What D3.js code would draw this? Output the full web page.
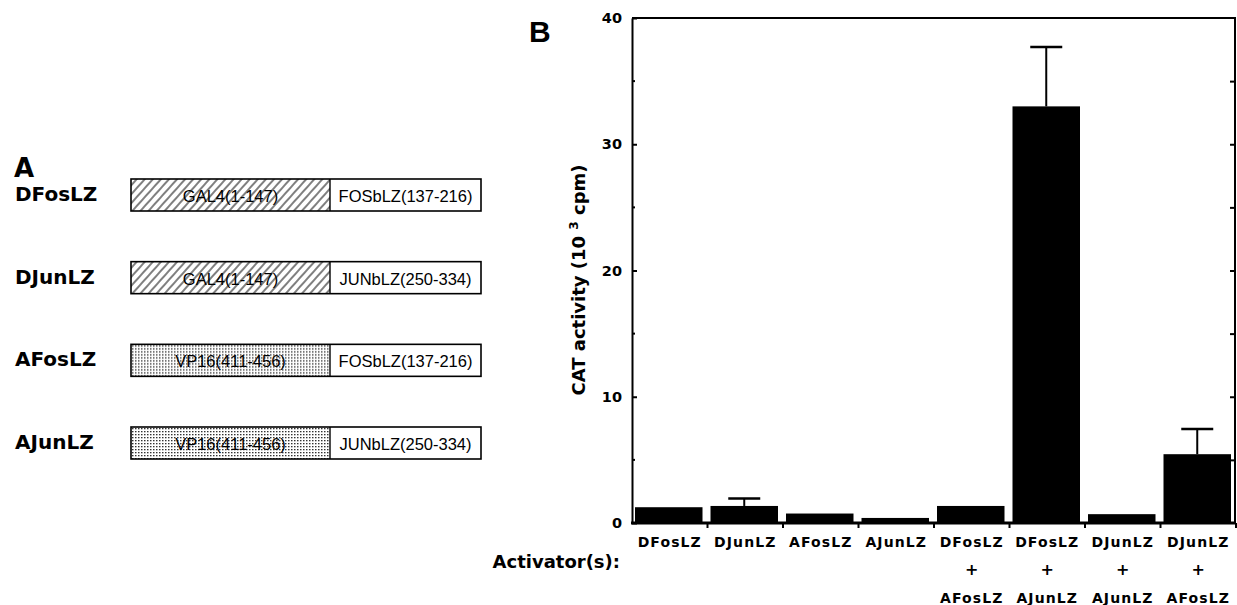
<!DOCTYPE html>
<html>
<head>
<meta charset="utf-8">
<script src="https://cdn.jsdelivr.net/npm/d3@7"></script>
<style>
  body { margin: 0; background: #fff; }
  .heavy { font-family: "DejaVu Sans", sans-serif; font-weight: bold; }
  .helv { font-family: "Liberation Sans", Arial, sans-serif; }
</style>
</head>
<body>
<script>
const w = 1237;
const h = 605;

// ---- panel A : constructs
const constructs = ["DFosLZ", "DJunLZ", "AFosLZ", "AJunLZ"];
const leftDomain = ["GAL4(1-147)", "GAL4(1-147)", "VP16(411-456)", "VP16(411-456)"];
const leftKind = ["hatch", "hatch", "dots", "dots"];
const rightDomain = ["FOSbLZ(137-216)", "JUNbLZ(250-334)", "FOSbLZ(137-216)", "JUNbLZ(250-334)"];

// ---- panel B : CAT activity
const activator1 = ["DFosLZ", "DJunLZ", "AFosLZ", "AJunLZ", "DFosLZ", "DFosLZ", "DJunLZ", "DJunLZ"];
const activator2 = ["", "", "", "", "AFosLZ", "AJunLZ", "AJunLZ", "AFosLZ"];
const activity = [1.25, 1.35, 0.75, 0.4, 1.35, 33.0, 0.7, 5.45];
const errUp = [0, 0.6, 0, 0, 0, 4.7, 0, 2.0];
const yTicks = [0, 10, 20, 30, 40];
const yMinor = [5, 15, 25, 35];

const svg = d3.select("body")
  .append("svg")
  .attr("width", w)
  .attr("height", h);

const defs = svg.append("defs");

defs.append("pattern")
  .attr("id", "hatch")
  .attr("patternUnits", "userSpaceOnUse")
  .attr("width", 6).attr("height", 6)
  .attr("patternTransform", "rotate(42)")
  .append("line")
  .attr("x1", 1).attr("y1", 0).attr("x2", 1).attr("y2", 6)
  .attr("stroke", "#000").attr("stroke-width", 1);

const dots = defs.append("pattern")
  .attr("id", "dots")
  .attr("patternUnits", "userSpaceOnUse")
  .attr("width", 3).attr("height", 3);
dots.append("rect")
  .attr("x", 0).attr("y", 0).attr("width", 1.5).attr("height", 1.3)
  .attr("fill", "#333");

// ---------- panel A
svg.append("text")
  .attr("class", "heavy")
  .attr("x", 14).attr("y", 177)
  .style("font-size", "26px")
  .text("A");

const rowY = d3.scalePoint().domain(constructs).range([195, 443]);
const boxL = 131, boxM = 330, boxR = 481, boxH = 32;

const rows = svg.append("g")
  .selectAll("g")
  .data(constructs)
  .enter().append("g")
  .attr("transform", d => `translate(0,${rowY(d)})`);

rows.append("text")
  .attr("class", "heavy")
  .attr("x", 15).attr("y", -1)
  .attr("dominant-baseline", "central")
  .style("font-size", "20px")
  .text(d => d);

rows.append("rect")
  .attr("x", boxL).attr("y", -boxH / 2)
  .attr("width", boxM - boxL).attr("height", boxH)
  .attr("fill", (d, i) => `url(#${leftKind[i]})`);

rows.append("rect")
  .attr("x", boxL).attr("y", -boxH / 2)
  .attr("width", boxR - boxL).attr("height", boxH)
  .attr("fill", "none").attr("stroke", "#000").attr("stroke-width", 1.6);

rows.append("line")
  .attr("x1", boxM).attr("x2", boxM)
  .attr("y1", -boxH / 2).attr("y2", boxH / 2)
  .attr("stroke", "#000").attr("stroke-width", 1.4);

rows.append("text")
  .attr("class", "helv")
  .attr("x", (boxL + boxM) / 2).attr("y", 1)
  .attr("text-anchor", "middle").attr("dominant-baseline", "central")
  .style("font-size", "16.5px")
  .text((d, i) => leftDomain[i]);

rows.append("text")
  .attr("class", "helv")
  .attr("x", (boxM + boxR) / 2).attr("y", 1)
  .attr("text-anchor", "middle").attr("dominant-baseline", "central")
  .style("font-size", "16.5px")
  .text((d, i) => rightDomain[i]);

// ---------- panel B
svg.append("text")
  .attr("class", "helv")
  .attr("x", 529).attr("y", 42)
  .style("font-size", "30px").style("font-weight", "bold")
  .text("B");

const cats = activator1.map((d, i) => i);
const x = d3.scaleBand().domain(cats).range([632, 1236]).padding(0);
const y = d3.scaleLinear().domain([0, 40]).range([523, 18]);

const plot = svg.append("g");

// frame: top + right
plot.append("line")
  .attr("x1", 632).attr("x2", 1236).attr("y1", y(40)).attr("y2", y(40))
  .attr("stroke", "#000").attr("stroke-width", 2);
plot.append("line")
  .attr("x1", 1235).attr("x2", 1235).attr("y1", y(40)).attr("y2", y(0))
  .attr("stroke", "#000").attr("stroke-width", 2);

// bars
plot.selectAll("rect.bar")
  .data(activity)
  .enter().append("rect")
  .attr("class", "bar")
  .attr("x", (d, i) => x(i) + 3)
  .attr("width", x.bandwidth() - 8)
  .attr("y", d => y(d))
  .attr("height", d => y(0) - y(d))
  .attr("fill", "#000");

// error bars
const errs = plot.selectAll("g.err")
  .data(activity.map((d, i) => ({i, v: d, e: errUp[i]})).filter(d => d.e > 0))
  .enter().append("g").attr("class", "err");
errs.append("line")
  .attr("x1", d => x(d.i) + x.bandwidth() / 2 - 1)
  .attr("x2", d => x(d.i) + x.bandwidth() / 2 - 1)
  .attr("y1", d => y(d.v)).attr("y2", d => y(d.v + d.e))
  .attr("stroke", "#000").attr("stroke-width", 2);
errs.append("line")
  .attr("x1", d => x(d.i) + x.bandwidth() / 2 - 17)
  .attr("x2", d => x(d.i) + x.bandwidth() / 2 + 15)
  .attr("y1", d => y(d.v + d.e)).attr("y2", d => y(d.v + d.e))
  .attr("stroke", "#000").attr("stroke-width", 2.5);

// left axis
const yAxis = plot.append("g")
  .attr("transform", "translate(632,0)")
  .call(d3.axisLeft(y).tickValues(yTicks).tickSizeInner(-5).tickSizeOuter(0).tickPadding(10));
yAxis.select(".domain").attr("stroke-width", 2);
yAxis.selectAll(".tick line").attr("stroke-width", 2);
yAxis.selectAll("text")
  .attr("class", "heavy")
  .style("font-size", "14.5px");

plot.append("g")
  .selectAll("line")
  .data(yMinor)
  .enter().append("line")
  .attr("x1", 632).attr("x2", 635)
  .attr("y1", d => y(d)).attr("y2", d => y(d))
  .attr("stroke", "#000").attr("stroke-width", 2);

// right axis, ticks pointing inward
const yRight = plot.append("g")
  .attr("transform", "translate(1235,0)")
  .call(d3.axisRight(y).tickValues(d3.range(5, 40, 5)).tickSizeInner(-5).tickSizeOuter(0).tickFormat(""));
yRight.select(".domain").remove();
yRight.selectAll(".tick line").attr("stroke-width", 2);

// bottom axis
plot.append("line")
  .attr("x1", 631).attr("x2", 1236).attr("y1", y(0)).attr("y2", y(0))
  .attr("stroke", "#000").attr("stroke-width", 3);
plot.append("g")
  .selectAll("line")
  .data(cats)
  .enter().append("line")
  .attr("x1", d => x(d) + x.bandwidth()).attr("x2", d => x(d) + x.bandwidth())
  .attr("y1", y(0)).attr("y2", y(0) + 5)
  .attr("stroke", "#000").attr("stroke-width", 2);

// y title
svg.append("text")
  .attr("class", "heavy")
  .attr("transform", "translate(585,280) rotate(-90)")
  .attr("text-anchor", "middle")
  .style("font-size", "18px")
  .call(t => {
    t.append("tspan").text("CAT activity (10 ");
    t.append("tspan").attr("dy", -7).style("font-size", "12px").text("3");
    t.append("tspan").attr("dy", 7).text(" cpm)");
  });

// category labels
const labels = svg.append("g")
  .selectAll("g")
  .data(cats)
  .enter().append("g")
  .attr("transform", d => `translate(${x(d) + x.bandwidth() / 2},0)`);

labels.append("text")
  .attr("class", "heavy")
  .attr("y", 547)
  .attr("text-anchor", "middle")
  .style("font-size", "14px").style("letter-spacing", "1.1px")
  .text(d => activator1[d]);

labels.filter(d => activator2[d] !== "")
  .append("text")
  .attr("class", "heavy")
  .attr("y", 575)
  .attr("text-anchor", "middle")
  .style("font-size", "16px")
  .text("+");

labels.append("text")
  .attr("class", "heavy")
  .attr("y", 603)
  .attr("text-anchor", "middle")
  .style("font-size", "14px").style("letter-spacing", "1.1px")
  .text(d => activator2[d]);

svg.append("text")
  .attr("class", "heavy")
  .attr("x", 620).attr("y", 568)
  .attr("text-anchor", "end")
  .style("font-size", "18px")
  .text("Activator(s):");
</script>
</body>
</html>
